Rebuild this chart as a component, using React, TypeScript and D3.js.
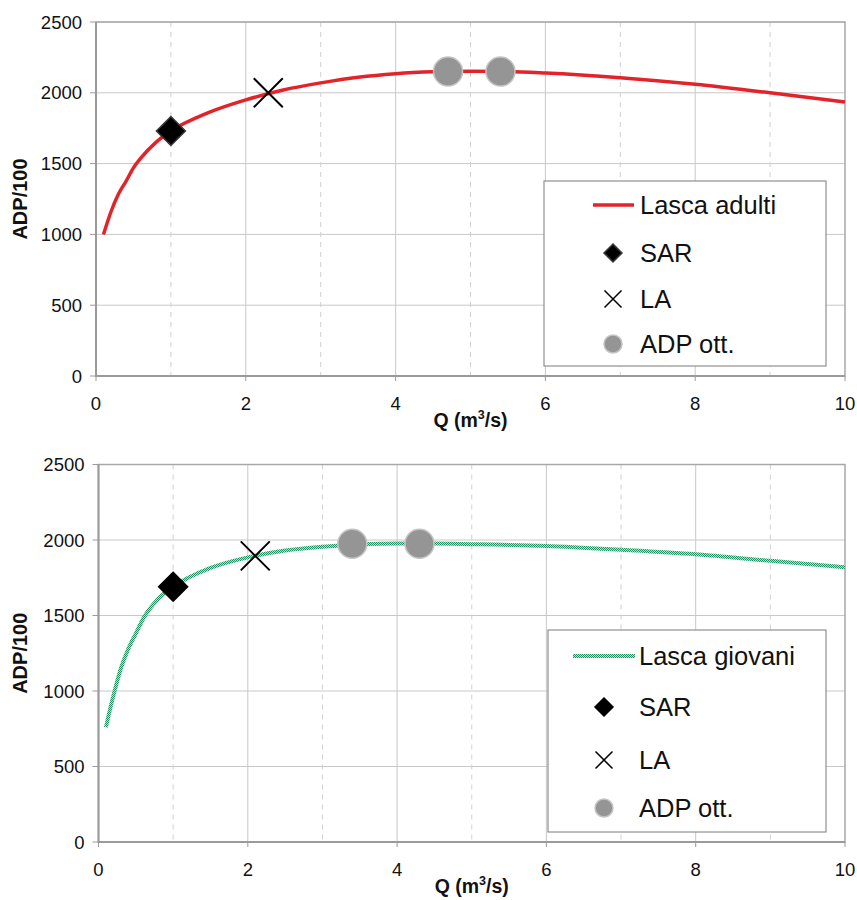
import React from "react";
import * as d3 from "d3";

// Lasca adulti curve
const qAdulti = [0.1, 0.2, 0.3, 0.4, 0.5, 0.6, 0.8, 1, 1.5, 2, 2.5, 3, 3.5, 4, 4.5, 5, 5.5, 6, 7, 8, 9, 10];
const adpAdulti = [1000, 1160, 1285, 1375, 1470, 1540, 1650, 1730, 1860, 1950, 2020, 2070, 2110, 2135, 2148, 2152, 2150, 2140, 2107, 2060, 2000, 1935];
const sarAdulti = [1, 1730];
const laAdulti = [2.3, 2000];
const ottAdulti = [[4.7, 2150], [5.4, 2150]];

// Lasca giovani curve
const qGiovani = [0.1, 0.15, 0.2, 0.3, 0.4, 0.5, 0.6, 0.8, 1, 1.5, 2, 2.5, 3, 3.5, 4, 4.5, 5, 6, 7, 8, 9, 10];
const adpGiovani = [760, 870, 970, 1150, 1280, 1380, 1480, 1610, 1690, 1815, 1885, 1930, 1955, 1970, 1976, 1976, 1972, 1960, 1935, 1905, 1862, 1820];
const sarGiovani = [1, 1690];
const laGiovani = [2.1, 1895];
const ottGiovani = [[3.4, 1975], [4.3, 1975]];

const xTicks = [0, 2, 4, 6, 8, 10];
const xMinor = [1, 3, 5, 7, 9];
const yTicks = [0, 500, 1000, 1500, 2000, 2500];

const FONT = "'Liberation Sans', Arial, sans-serif";

const Diamond = ({ x, y, r, stroke }) => (
  <path d={`M${x},${y - r}L${x + r},${y}L${x},${y + r}L${x - r},${y}Z`} fill="#000" stroke={stroke} strokeWidth={1.5} />
);
const Cross = ({ x, y, r, w }) => (
  <path d={`M${x - r},${y - r}L${x + r},${y + r}M${x - r},${y + r}L${x + r},${y - r}`} stroke="#000" strokeWidth={w} fill="none" />
);
const Dot = ({ x, y, r }) => <circle cx={x} cy={y} r={r} fill="#959595" stroke="#c4c4c4" strokeWidth={1.5} />;

const Panel = ({ left, right, top, bottom, qs, vals, sar, la, ott, lineStroke, lineWidth, legend, name, diamondStroke }) => {
  const x = d3.scaleLinear().domain([0, 10]).range([left, right]);
  const y = d3.scaleLinear().domain([0, 2500]).range([bottom, top]);
  const line = d3
    .line<number>()
    .x((d, i) => x(qs[i]))
    .y((d) => y(d))
    .curve(d3.curveMonotoneX);
  const midX = (left + right) / 2;
  const midY = (top + bottom) / 2;
  return (
    <g fontFamily={FONT}>
      {/* gridlines */}
      {yTicks.map((t) => (
        <line key={"h" + t} x1={left} x2={right} y1={y(t)} y2={y(t)} stroke="#c8c8c8" strokeWidth={1} />
      ))}
      {xTicks.slice(1, -1).map((t) => (
        <line key={"v" + t} x1={x(t)} x2={x(t)} y1={top} y2={bottom} stroke="#c8c8c8" strokeWidth={1} />
      ))}
      {xMinor.map((t) => (
        <line key={"m" + t} x1={x(t)} x2={x(t)} y1={top} y2={bottom} stroke="#d0d0d0" strokeWidth={1} strokeDasharray="5,5" />
      ))}
      <rect x={left} y={top} width={right - left} height={bottom - top} fill="none" stroke="#a8a8a8" strokeWidth={1.5} />
      {/* axes */}
      <line x1={left} x2={left} y1={top} y2={bottom + 1} stroke="#9a9a9a" strokeWidth={2} />
      <line x1={left} x2={right} y1={bottom} y2={bottom} stroke="#9a9a9a" strokeWidth={2} />
      {yTicks.map((t) => (
        <g key={"yt" + t}>
          <line x1={left - 6} x2={left} y1={y(t)} y2={y(t)} stroke="#9a9a9a" strokeWidth={1} />
          <text x={left - 14} y={y(t)} dy="0.36em" textAnchor="end" fontSize={18.5} fill="#111">
            {t}
          </text>
        </g>
      ))}
      {xTicks.map((t) => (
        <g key={"xt" + t}>
          <line x1={x(t)} x2={x(t)} y1={bottom} y2={bottom + 5} stroke="#9a9a9a" strokeWidth={1} />
          <text x={x(t)} y={bottom + 34} textAnchor="middle" fontSize={18.5} fill="#111">
            {t}
          </text>
        </g>
      ))}
      <text x={midX} y={bottom + 51} textAnchor="middle" fontSize={19.5} fontWeight="bold" fill="#111">
        Q (m<tspan fontSize={12.5} dy={-8}>3</tspan>
        <tspan dy={8}>/s)</tspan>
      </text>
      <text transform={`translate(27,${midY}) rotate(-90)`} textAnchor="middle" fontSize={20} fontWeight="bold" fill="#111">
        ADP/100
      </text>
      {/* data */}
      <path d={line(vals) || ""} fill="none" stroke={lineStroke} strokeWidth={lineWidth} />
      <Diamond x={x(sar[0])} y={y(sar[1])} r={14.5} stroke={diamondStroke} />
      <Cross x={x(la[0])} y={y(la[1])} r={14.5} w={2} />
      {ott.map((p, i) => (
        <Dot key={i} x={x(p[0])} y={y(p[1])} r={14.5} />
      ))}
      {/* legend */}
      <rect x={legend.x} y={legend.y} width={legend.w} height={legend.h} fill="#fff" stroke="#7a7a7a" strokeWidth={1} />
      <line x1={legend.lx1} x2={legend.lx2} y1={legend.rows[0]} y2={legend.rows[0]} stroke={lineStroke} strokeWidth={lineWidth} />
      <Diamond x={legend.mx} y={legend.rows[1]} r={9} stroke={diamondStroke} />
      <Cross x={legend.mx} y={legend.rows[2]} r={8.5} w={1.5} />
      <Dot x={legend.mx} y={legend.rows[3]} r={9} />
      {[name, "SAR", "LA", "ADP ott."].map((s, i) => (
        <text key={s} x={legend.tx} y={legend.rows[i]} dy="0.36em" fontSize={25.5} fill="#111">
          {s}
        </text>
      ))}
    </g>
  );
};

export default function App() {
  return (
    <svg width={857} height={900} style={{ display: "block", position: "absolute", left: 0, top: 0 }}>
      <defs>
        <pattern id="greenTex" width={2} height={2} patternUnits="userSpaceOnUse">
          <rect width={2} height={2} fill="#b4e0c8" />
          <rect width={1} height={1} fill="#1f9462" />
          <rect x={1} y={1} width={1} height={1} fill="#1f9462" />
        </pattern>
      </defs>
      <rect width={857} height={900} fill="#fff" />
      <Panel
        left={96}
        right={845}
        top={22}
        bottom={376}
        qs={qAdulti}
        vals={adpAdulti}
        sar={sarAdulti}
        la={laAdulti}
        ott={ottAdulti}
        lineStroke="#e2242a"
        lineWidth={3.5}
        diamondStroke="#3a3a3a"
        name="Lasca adulti"
        legend={{ x: 544, y: 181, w: 282, h: 185, lx1: 593, lx2: 634, mx: 613, tx: 640, rows: [205, 253, 299, 344] }}
      />
      <Panel
        left={98.5}
        right={845}
        top={464.5}
        bottom={842}
        qs={qGiovani}
        vals={adpGiovani}
        sar={sarGiovani}
        la={laGiovani}
        ott={ottGiovani}
        lineStroke="url(#greenTex)"
        lineWidth={4}
        diamondStroke="#000"
        name="Lasca giovani"
        legend={{ x: 548, y: 630, w: 278, h: 202, lx1: 573, lx2: 635, mx: 604, tx: 639, rows: [656, 707, 760, 808] }}
      />
    </svg>
  );
}
